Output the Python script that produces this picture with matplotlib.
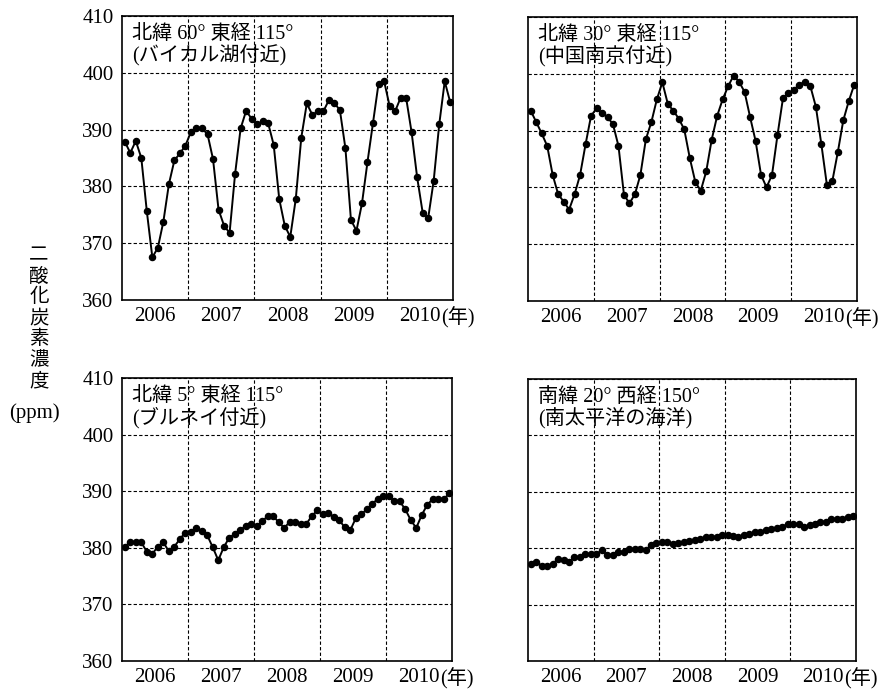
import numpy as np
import matplotlib
matplotlib.use("Agg")
import matplotlib.pyplot as plt

years = [2006, 2007, 2008, 2009, 2010]
year_labels = ["2006", "2007", "2008", "2009", "2010"]
y_ticks = [360, 370, 380, 390, 400, 410]

baikal = [387.9, 385.9, 388.0, 385.0, 375.6, 367.5, 369.2, 373.8, 380.4, 384.6, 385.8, 387.2,
          389.6, 390.2, 390.2, 389.2, 384.8, 375.9, 373.1, 371.8, 382.2, 390.2, 393.3, 391.9,
          390.9, 391.5, 391.1, 387.3, 377.8, 373.1, 371.1, 377.8, 388.6, 394.6, 392.6, 393.2,
          393.2, 395.2, 394.7, 393.4, 386.7, 374.1, 372.2, 377.0, 384.3, 391.2, 398.1, 398.6,
          394.2, 393.2, 395.6, 395.6, 389.5, 381.6, 375.4, 374.4, 381.0, 390.9, 398.5, 394.8]

nanjing = [393.5, 391.5, 389.5, 387.3, 382.2, 378.8, 377.5, 376.1, 378.8, 382.2, 387.6, 392.6,
           393.9, 393.1, 392.4, 391.1, 387.3, 378.7, 377.2, 378.8, 382.2, 388.5, 391.5, 395.5,
           398.5, 394.7, 393.5, 392.1, 390.2, 385.2, 381.0, 379.4, 382.8, 388.4, 392.6, 395.5,
           397.8, 399.7, 398.6, 396.8, 392.4, 388.2, 382.2, 380.0, 382.2, 389.2, 395.7, 396.6,
           397.2, 398.1, 398.6, 397.8, 394.2, 387.6, 380.5, 381.1, 386.2, 391.8, 395.2, 398.1]

brunei = [380.2, 381.0, 381.0, 381.0, 379.3, 378.9, 380.2, 381.0, 379.4, 380.2, 381.5, 382.7,
          382.8, 383.5, 383.0, 382.2, 380.1, 377.8, 380.1, 381.8, 382.4, 383.2, 383.8, 384.2,
          383.8, 384.7, 385.6, 385.6, 384.5, 383.5, 384.6, 384.6, 384.2, 384.2, 385.6, 386.6,
          385.9, 386.1, 385.5, 384.9, 383.6, 383.1, 385.2, 385.9, 386.8, 387.8, 388.6, 389.2,
          389.2, 388.2, 388.2, 386.8, 384.9, 383.5, 385.8, 387.6, 388.6, 388.6, 388.6, 389.6]

pacific = [377.2, 377.6, 376.9, 376.9, 377.2, 378.1, 377.9, 377.6, 378.4, 378.5, 378.9, 378.9,
           379.0, 379.6, 378.8, 378.8, 379.3, 379.3, 379.8, 379.8, 379.8, 379.7, 380.5, 381.0,
           381.1, 381.1, 380.7, 380.9, 381.1, 381.2, 381.5, 381.6, 381.9, 381.9, 381.9, 382.4,
           382.4, 382.1, 381.9, 382.4, 382.5, 382.9, 382.9, 383.3, 383.4, 383.6, 383.8, 384.3,
           384.3, 384.3, 383.7, 384.2, 384.3, 384.7, 384.7, 385.2, 385.2, 385.2, 385.6, 385.7]

titles = [
    ("北緯 60° 東経 115°", "(バイカル湖付近)"),
    ("北緯 30° 東経 115°", "(中国南京付近)"),
    ("北緯 5° 東経 115°", "(ブルネイ付近)"),
    ("南緯 20° 西経 150°", "(南太平洋の海洋)"),
]
series = [baikal, nanjing, brunei, pacific]

months = np.arange(60)
xvals = years[0] + (months + 0.5) / 12.0

W, H = 889, 691
fig = plt.figure(figsize=(W / 100, H / 100), dpi=100)

# axes rectangles in pixels: (left, top, right, bottom)
rects = [(122, 16, 453, 300), (528, 17, 857, 301),
         (122, 378, 452, 661), (528, 379, 856, 661)]

serif = "Liberation Serif"
mixed = ["Liberation Serif", "Noto Sans CJK JP"]

for i, (rect, data, title) in enumerate(zip(rects, series, titles)):
    l, t, r, b = rect
    ax = fig.add_axes([l / W, 1 - b / H, (r - l) / W, (b - t) / H])
    ax.plot(xvals, data, color="black", lw=1.4, marker="o", ms=4.4, mec="black", mfc="black")
    ax.set_xlim(2006, 2011)
    ax.set_ylim(360, 410)
    ax.set_xticks([y + 0.5 for y in years])
    ax.set_xticklabels(year_labels, fontfamily=serif, fontsize=15)
    ax.set_xticks(years[1:], minor=True)
    ax.set_yticks(y_ticks)
    if i % 2 == 0:
        ax.set_yticklabels([str(v) for v in y_ticks], fontfamily=serif, fontsize=15)
    else:
        ax.set_yticklabels([])
    ax.tick_params(axis="both", which="both", length=0)
    ax.tick_params(axis="x", pad=5)
    ax.tick_params(axis="y", pad=6)
    ax.grid(axis="y", which="major", color="black", lw=0.8, ls=(0, (3, 2)))
    ax.grid(axis="x", which="minor", color="black", lw=0.8, ls=(0, (3, 2)))
    ax.grid(axis="x", which="major", visible=False)
    for s in ax.spines.values():
        s.set_linewidth(1.2)
    ax.text(0.03, 0.97, title[0] + "\n" + title[1], transform=ax.transAxes,
            ha="left", va="top", fontsize=14.5, family=mixed, linespacing=1.1)
    ax.annotate("(年)", xy=(2010.5, 0), xycoords=("data", "axes fraction"),
                xytext=(15, -12.5), textcoords="offset points",
                ha="left", va="center", fontsize=14.5, family=mixed)

fig.text(39 / W, 1 - 318 / H, "\n".join("二酸化炭素濃度"), ha="center", va="center",
         fontsize=14, family="Noto Sans CJK JP", linespacing=1.0)
fig.text(34 / W, 1 - 413 / H, "(ppm)", ha="center", va="center",
         fontsize=15, family=serif)

fig.savefig("out.png", dpi=100)
